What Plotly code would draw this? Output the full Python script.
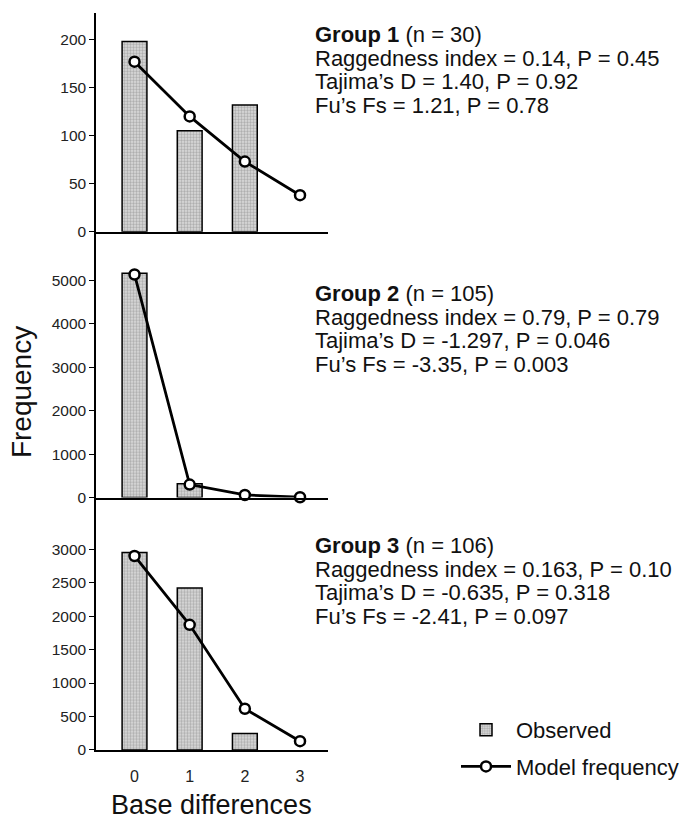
import plotly.graph_objects as go

# ---------------- data ----------------
x_vals = [0, 1, 2, 3]
x_labels = ["0", "1", "2", "3"]

obs1 = [198, 105, 132, None]
mod1 = [177, 120, 73, 38]

obs2 = [5170, 320, None, None]
mod2 = [5140, 300, 60, 8]

obs3 = [2950, 2420, 245, None]
mod3 = [2900, 1870, 615, 130]

yticks1 = [0, 50, 100, 150, 200]
yticks2 = [0, 1000, 2000, 3000, 4000, 5000]
yticks3 = [0, 500, 1000, 1500, 2000, 2500, 3000]

stats1 = ["<b>Group 1</b> (n = 30)",
          "Raggedness index = 0.14, P = 0.45",
          "Tajima\u2019s D = 1.40, P = 0.92",
          "Fu\u2019s Fs = 1.21, P = 0.78"]
stats2 = ["<b>Group 2</b> (n = 105)",
          "Raggedness index = 0.79, P = 0.79",
          "Tajima\u2019s D = -1.297, P = 0.046",
          "Fu\u2019s Fs = -3.35, P = 0.003"]
stats3 = ["<b>Group 3</b> (n = 106)",
          "Raggedness index = 0.163, P = 0.10",
          "Tajima\u2019s D = -0.635, P = 0.318",
          "Fu\u2019s Fs = -2.41, P = 0.097"]

# ---------------- layout helpers ----------------
W, H = 684, 817
FONT = "Liberation Sans, Arial, sans-serif"

def py(px):
    return 1 - px / H

def pxx(px):
    return px / W

panels = [
    dict(obs=obs1, mod=mod1, ticks=yticks1, dom=[py(234), py(13)], rng=[0, 227.8], stats=stats1, ty=20),
    dict(obs=obs2, mod=mod2, ticks=yticks2, dom=[py(502.5), py(234)], rng=[0, 6125], stats=stats2, ty=282),
    dict(obs=obs3, mod=mod3, ticks=yticks3, dom=[py(757.3), py(502.5)], rng=[0, 3773], stats=stats3, ty=536),
]

fig = go.Figure()
annotations = []

for i, p in enumerate(panels):
    n = i + 1
    xa = "x" if n == 1 else f"x{n}"
    ya = "y" if n == 1 else f"y{n}"
    fig.add_trace(go.Bar(
        x=x_vals, y=p["obs"], xaxis=xa, yaxis=ya, width=0.45,
        name="Observed", showlegend=(n == 1), legendgroup="obs",
        marker=dict(color="#d0d0d0",
                    line=dict(color="black", width=1.5),
                    pattern=dict(shape=".", fgcolor="#7c7c7c", bgcolor="#dedede",
                                 size=3, solidity=0.5)),
    ))
    fig.add_trace(go.Scatter(
        x=x_vals, y=p["mod"], xaxis=xa, yaxis=ya, mode="lines+markers",
        name="Model frequency", showlegend=(n == 1), legendgroup="mod",
        line=dict(color="black", width=2.8),
        marker=dict(symbol="circle", size=10, color="white",
                    line=dict(color="black", width=2.5)),
        cliponaxis=False,
    ))
    xkey = "xaxis" if n == 1 else f"xaxis{n}"
    ykey = "yaxis" if n == 1 else f"yaxis{n}"
    fig.layout[xkey] = dict(
        domain=[pxx(96), pxx(328)], range=[-0.698, 3.507], anchor=ya,
        showline=True, linecolor="black", linewidth=1.5,
        showgrid=False, zeroline=False,
        tickvals=x_vals, ticktext=x_labels,
        showticklabels=(n == 3), ticks="",
        ticklabelstandoff=11,
        tickfont=dict(family=FONT, size=16, color="#222"),
    )
    fig.layout[ykey] = dict(
        domain=p["dom"], range=p["rng"], anchor=xa,
        showline=True, linecolor="black", linewidth=1.5,
        showgrid=False, zeroline=False,
        tickvals=p["ticks"], ticks="outside", ticklen=5, tickwidth=1.3,
        tickcolor="black",
        tickfont=dict(family=FONT, size=15.5, color="#222"),
    )
    text = "<br>".join(f"<span style='font-size:22px'>{s}</span>" for s in p["stats"])
    annotations.append(dict(
        text=text, x=pxx(313), y=py(p["ty"]), xref="paper", yref="paper",
        xanchor="left", yanchor="top", align="left", showarrow=False,
        font=dict(family=FONT, size=18.1, color="#111"),
    ))

annotations.append(dict(
    text="Frequency", x=pxx(21), y=py(396), xref="paper", yref="paper",
    xanchor="center", yanchor="middle", showarrow=False, textangle=-90,
    font=dict(family=FONT, size=28, color="#111"),
))
annotations.append(dict(
    text="Base differences", x=pxx(211), y=py(813), xref="paper", yref="paper",
    xanchor="center", yanchor="middle", showarrow=False,
    font=dict(family=FONT, size=27, color="#111"),
))

fig.update_layout(
    width=W, height=H,
    margin=dict(l=0, r=0, t=0, b=0),
    paper_bgcolor="white", plot_bgcolor="white",
    bargap=0.3,
    annotations=annotations,
    showlegend=True,
    legend=dict(x=pxx(456), y=py(716), xanchor="left", yanchor="top",
                font=dict(family=FONT, size=22, color="#111"),
                itemwidth=50, tracegroupgap=5, traceorder="grouped",
                bgcolor="rgba(0,0,0,0)"),
)

fig.write_html("out.html",
               config={"displayModeBar": False},
               post_script="document.body.style.margin='0';document.body.style.overflow='hidden';")
